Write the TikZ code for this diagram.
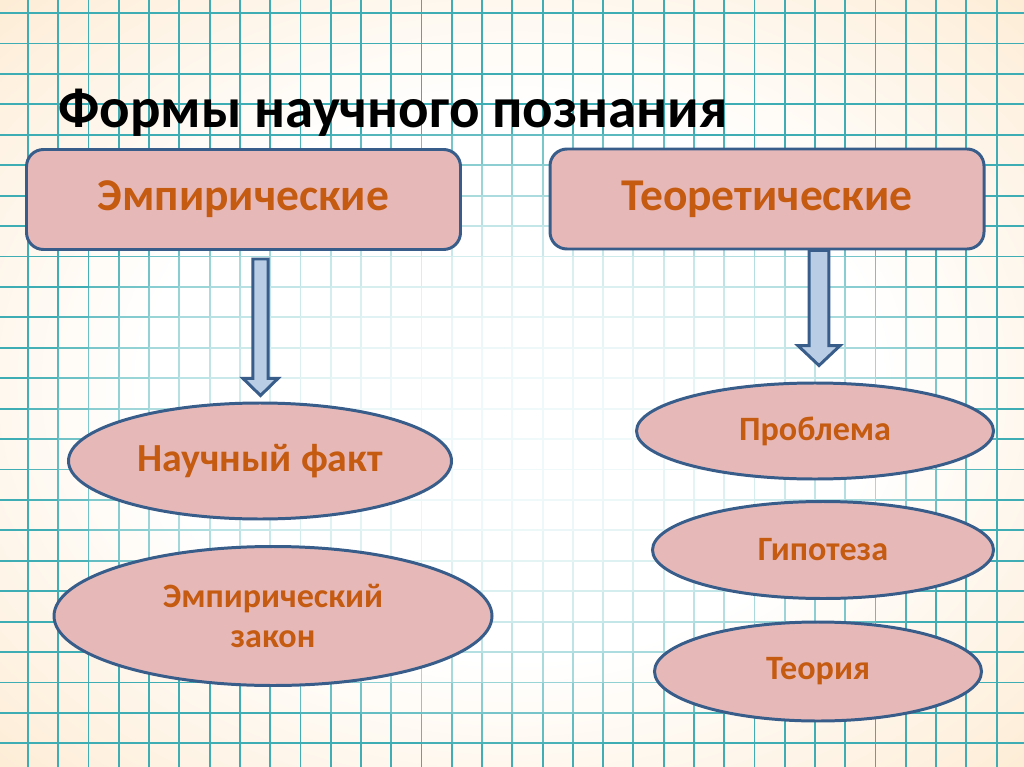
\documentclass[tikz,border=0pt]{standalone}
\usepackage{fontspec}
\setmainfont{Carlito}
\usetikzlibrary{shapes.geometric,calc}
\newdimen\pxl \pxl=0.703125pt
\definecolor{boxfill}{HTML}{E6B9B8}
\definecolor{boxline}{HTML}{385D8A}
\definecolor{txtorange}{HTML}{C55A11}
\definecolor{arrowfill}{HTML}{B9CDE5}
\definecolor{gridteal}{HTML}{3FAEB4}
\definecolor{peach}{HTML}{F9D3A0}
\definecolor{peachmid}{HTML}{FDEAD0}
\pgfdeclareradialshading{bgshade}{\pgfpoint{0bp}{0bp}}{color(0bp)=(white); color(18bp)=(white); color(38bp)=(peachmid); color(71bp)=(peach)}
\tikzset{
  gridline/.style={line width=1.3pt},
  topbox/.style={draw=boxline, fill=boxfill, line width=2.1pt, rounded corners=17\pxl,
    minimum width=434\pxl, minimum height=100\pxl, text=txtorange,
    font=\bfseries\fontsize{32}{38}\selectfont},
  oval/.style={ellipse, draw=boxline, fill=boxfill, line width=2.1pt, inner sep=0pt,
    text=txtorange, align=center},
  barrow/.style={draw=boxline, fill=arrowfill, line width=2.1pt, line join=miter},
  titletext/.style={font=\bfseries\fontsize{40}{48}\selectfont, anchor=base west, inner sep=0pt}
}
\newcommand\blockarr[5]{\path[barrow] let \p1=(#1), \p2=(#2) in
  ({\x1-#3},\y1) -- ({\x1+#3},\y1) -- ({\x1+#3},{\y2+#5}) -- ({\x1+#4},{\y2+#5}) --
  (\x1,\y2) -- ({\x1-#4},{\y2+#5}) -- ({\x1-#3},{\y2+#5}) -- cycle;}
\newcommand\gridpct[2]{\pgfmathsetmacro\gd{sqrt(((#1-512)/490)^2+((#2-430)/320)^2)}\pgfmathtruncatemacro\gp{min(100,8+92*\gd^3)}}
\begin{document}
\begin{tikzpicture}[x=0.703125pt, y=-0.703125pt]
\useasboundingbox (0,0) rectangle (1024,767);
% background
\shade[shading=bgshade] (0,0) rectangle (1024,767);
\foreach \i in {0,...,32}{
  \pgfmathsetmacro\gx{28+30.27*\i}
  \foreach \s in {-1,...,24}{
    \pgfmathsetmacro\ya{13+30.43*\s}
    \pgfmathsetmacro\yb{13+30.43*(\s+1)}
    \gridpct{\gx}{\ya+15}
    \draw[gridline, draw=gridteal!\gp!white] (\gx,\ya) -- (\gx,\yb);
  }
}
\foreach \j in {0,...,24}{
  \pgfmathsetmacro\gy{13+30.43*\j}
  \foreach \s in {-1,...,33}{
    \pgfmathsetmacro\xa{28+30.27*\s}
    \pgfmathsetmacro\xb{28+30.27*(\s+1)}
    \gridpct{\xa+15}{\gy}
    \draw[gridline, draw=gridteal!\gp!white] (\xa,\gy) -- (\xb,\gy);
  }
}
% title
\node[titletext] (title) at (58,128) {Формы научного познания};
% boxes
\node[topbox] (emp) at (243.5,199.5) {Эмпирические};
\node[topbox] (theo) at (767,199) {Теоретические};
% ovals
\node[oval, minimum width=383\pxl, minimum height=116\pxl, font=\bfseries\fontsize{28}{33}\selectfont] (fact) at (260,461) {Научный факт};
\node[oval, minimum width=438\pxl, minimum height=139\pxl, font=\bfseries\fontsize{24}{28.5}\selectfont] (law) at (273,616) {Эмпирический\\закон};
\node[oval, minimum width=357\pxl, minimum height=96\pxl, font=\bfseries\fontsize{24}{28}\selectfont] (prob) at (815,431) {Проблема};
\node[oval, minimum width=341\pxl, minimum height=97\pxl, font=\bfseries\fontsize{24}{28}\selectfont] (hyp) at (823,550) {Гипотеза};
\node[oval, minimum width=327\pxl, minimum height=99\pxl, font=\bfseries\fontsize{24}{28}\selectfont] (theory) at (818,671.5) {Теория};
% arrows
\coordinate (a1s) at ($(fact.north |- emp.south)+(0.5,8)$);
\coordinate (a1e) at ($(fact.north)+(0.5,-6)$);
\coordinate (a2s) at ($(prob.north |- theo.south)+(4,0)$);
\coordinate (a2e) at ($(prob.north)+(4,-16)$);
\blockarr{a1s}{a1e}{5.3pt}{12.3pt}{12pt}
\blockarr{a2s}{a2e}{6.9pt}{14.8pt}{14pt}
\end{tikzpicture}
\end{document}
